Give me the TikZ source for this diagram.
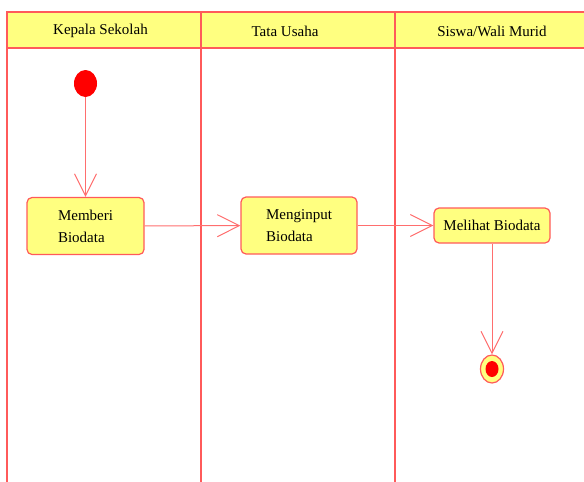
\documentclass[tikz,border=0pt]{standalone}
\usepackage{fontspec}
\setmainfont{Liberation Serif}
\usetikzlibrary{arrows.meta,shapes.geometric}
\definecolor{garis}{RGB}{255,90,90}
\definecolor{panah}{RGB}{255,110,110}
\definecolor{kuning}{RGB}{255,255,128}
\tikzset{
  judul/.style={font=\fontsize{15}{18}\selectfont},
  aktivitas/.style={draw=garis, line width=1.2pt, fill=kuning, rounded corners=5pt,
    font=\fontsize{15}{22}\selectfont, align=left, inner sep=0pt},
  alur/.style={draw=panah, line width=1pt, -{Straight Barb[length=22pt,width=22pt]}},
}
\begin{document}
\begin{tikzpicture}[x=1pt,y=-1pt]
\useasboundingbox (0,0) rectangle (584,482);
% swimlane
\fill[kuning] (7,12) rectangle (590,48);
\draw[garis, line width=1.5pt] (590,12) -- (7,12) -- (7,482);
\draw[garis, line width=1.5pt] (7,48) -- (590,48);
\draw[garis, line width=1.5pt] (201,12) -- (201,482);
\draw[garis, line width=1.5pt] (395,12) -- (395,482);
\node[judul] (kepsek) at (100.5,31) {Kepala Sekolah};
\node[judul] (tu) at (285,31) {Tata Usaha};
\node[judul] (siswa) at (492,31) {Siswa/Wali Murid};

% aktivitas
\node[ellipse, fill=red, minimum width=23pt, minimum height=27pt, inner sep=0pt] (mulai) at (85.5,83.5) {};
\node[aktivitas, minimum width=117pt, minimum height=57pt] (memberi) at (85.5,226) {Memberi\\Biodata};
\node[aktivitas, minimum width=116pt, minimum height=57pt] (menginput) at (299,225.5) {Menginput\\Biodata};
\node[aktivitas, minimum width=116pt, minimum height=35pt] (melihat) at (492,225.5) {Melihat Biodata};
\node[ellipse, draw=garis, line width=1.2pt, fill=kuning, minimum width=23pt, minimum height=28pt, inner sep=0pt] (selesai) at (492,369) {};
\fill[red] (selesai.center) ellipse (6.5pt and 8pt);

% alur
\draw[alur] (mulai) -- (memberi);
\draw[alur] (memberi) -- (menginput);
\draw[alur] (menginput) -- (melihat);
\draw[alur] (melihat) -- (selesai);
\end{tikzpicture}
\end{document}
